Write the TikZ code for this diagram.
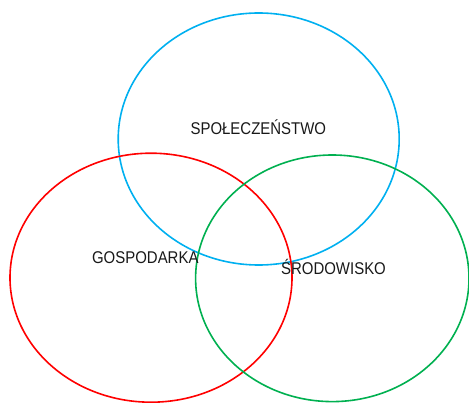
\documentclass[tikz,border=0pt]{standalone}
\usepackage{fontspec}
\setmainfont[FakeStretch=0.88]{Liberation Sans}
\definecolor{cblue}{HTML}{00B0F0}
\definecolor{cred}{HTML}{FF0000}
\definecolor{cgreen}{HTML}{00B050}
\begin{document}
\begin{tikzpicture}[x=1pt,y=-1pt,
  ring/.style={line width=1.6pt},
  lbl/.style={anchor=base,inner sep=0pt,font=\fontsize{17}{20}\selectfont,text=black!90}]
\useasboundingbox (0,0) rectangle (469,403);
\draw[ring,cblue] (258.7,139) ellipse [x radius=140.5, y radius=126];
\draw[ring,cred] (151,277.7) ellipse [x radius=141, y radius=124.5];
\draw[ring,cgreen] (332.3,278.3) ellipse [x radius=136.7, y radius=123.3];
\node[lbl] (spo) at (258.3,135) {SPOŁECZEŃSTWO};
\node[lbl] (gos) at (145.3,264) {GOSPODARKA};
\node[lbl] (sro) at (333.5,275) {ŚRODOWISKO};
\end{tikzpicture}
\end{document}
